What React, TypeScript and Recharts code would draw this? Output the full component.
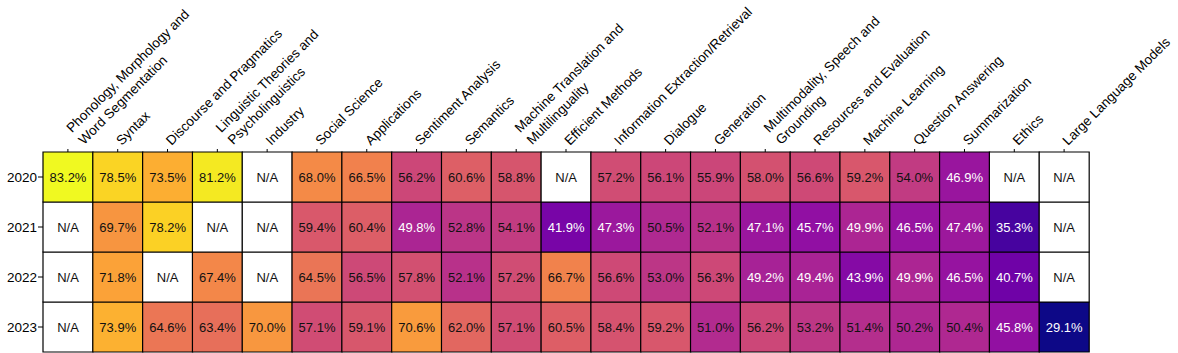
import React from "react";
import { BarChart, Bar, XAxis, YAxis, Cell, LabelList } from "recharts";

// column labels (line breaks as in the figure)
const CATEGORIES = [
  "Phonology, Morphology and\nWord Segmentation",
  "Syntax",
  "Discourse and Pragmatics",
  "Linguistic Theories and\nPsycholinguistics",
  "Industry",
  "Social Science",
  "Applications",
  "Sentiment Analysis",
  "Semantics",
  "Machine Translation and\nMultilinguality",
  "Efficient Methods",
  "Information Extraction/Retrieval",
  "Dialogue",
  "Generation",
  "Multimodality, Speech and\nGrounding",
  "Resources and Evaluation",
  "Machine Learning",
  "Question Answering",
  "Summarization",
  "Ethics",
  "Large Language Models",
];

const YEARS = ["2020", "2021", "2022", "2023"];

// null = N/A
const V2020 = [83.2, 78.5, 73.5, 81.2, null, 68.0, 66.5, 56.2, 60.6, 58.8, null, 57.2, 56.1, 55.9, 58.0, 56.6, 59.2, 54.0, 46.9, null, null];
const V2021 = [null, 69.7, 78.2, null, null, 59.4, 60.4, 49.8, 52.8, 54.1, 41.9, 47.3, 50.5, 52.1, 47.1, 45.7, 49.9, 46.5, 47.4, 35.3, null];
const V2022 = [null, 71.8, null, 67.4, null, 64.5, 56.5, 57.8, 52.1, 57.2, 66.7, 56.6, 53.0, 56.3, 49.2, 49.4, 43.9, 49.9, 46.5, 40.7, null];
const V2023 = [null, 73.9, 64.6, 63.4, 70.0, 57.1, 59.1, 70.6, 62.0, 57.1, 60.5, 58.4, 59.2, 51.0, 56.2, 53.2, 51.4, 50.2, 50.4, 45.8, 29.1];

const VALUES: Record<string, (number | null)[]> = {
  "2020": V2020,
  "2021": V2021,
  "2022": V2022,
  "2023": V2023,
};

// matplotlib "plasma" stops
const PLASMA = [
  "#0d0887", "#41049d", "#6a00a8", "#8f0da4", "#b12a90", "#cc4778",
  "#e16462", "#f2844b", "#fca636", "#fcce25", "#f0f921",
];

const ALL = [...V2020, ...V2021, ...V2022, ...V2023].filter((v): v is number => v != null);
const VMIN = Math.min(...ALL);
const VMAX = Math.max(...ALL);

function hex(c: string) {
  return [1, 3, 5].map((i) => parseInt(c.slice(i, i + 2), 16));
}

function plasma(v: number) {
  const t = Math.max(0, Math.min(1, (v - VMIN) / (VMAX - VMIN))) * (PLASMA.length - 1);
  const i = Math.min(Math.floor(t), PLASMA.length - 2);
  const f = t - i;
  const a = hex(PLASMA[i]);
  const b = hex(PLASMA[i + 1]);
  const m = a.map((x, k) => Math.round(x + (b[k] - x) * f));
  return `rgb(${m[0]},${m[1]},${m[2]})`;
}

const rows = CATEGORIES.map((name) => {
  const r: Record<string, string | number> = { name };
  YEARS.forEach((y) => (r[y] = 1));
  return r;
});

// stacking goes bottom-up, so last year first
const STACK_ORDER = [...YEARS].reverse();

const FONT = "'Liberation Sans', Arial, Helvetica, sans-serif";

function TopTick(props: any) {
  const { x, y, payload } = props;
  const lines = String(payload.value).split("\n");
  const offs = lines.length > 1 ? [[9, -9], [9, 8]] : [[0, 0]];
  return (
    <g transform={`translate(${x + 4},${y}) rotate(-45)`}>
      <text fontSize={13.5} fill="#000" fontFamily={FONT}>
        {lines.map((l, i) => (
          <tspan key={i} x={offs[i][0]} y={offs[i][1]}>
            {l}
          </tspan>
        ))}
      </text>
    </g>
  );
}

function cellLabel(year: string) {
  return (p: any) => {
    const v = VALUES[year][p.index];
    const txt = v == null ? "N/A" : `${v.toFixed(1)}%`;
    const color = v != null && v < 50 ? "#fff" : "#111";
    return (
      <text
        x={p.x + p.width / 2}
        y={p.y + p.height / 2}
        textAnchor="middle"
        dominantBaseline="central"
        fontSize={13}
        fill={color}
        fontFamily={FONT}
      >
        {txt}
      </text>
    );
  };
}

export default function App() {
  return (
    <div style={{ position: "absolute", left: 0, top: 0, background: "#fff", fontFamily: FONT }}>
      <BarChart
        width={1178}
        height={353}
        data={rows}
        margin={{ top: 0, right: 89, bottom: 1, left: 0 }}
        barCategoryGap={0}
        barGap={0}
      >
        <XAxis
          dataKey="name"
          xAxisId={0}
          orientation="top"
          height={152}
          interval={0}
          axisLine={false}
          tickSize={3}
          tickMargin={3}
          tickLine={{ stroke: "#000" }}
          tick={<TopTick />}
        />
        <YAxis
          type="number"
          domain={[0, 4]}
          ticks={[0.5, 1.5, 2.5, 3.5]}
          tickFormatter={(v: number) => STACK_ORDER[Math.floor(v)]}
          width={43}
          axisLine={false}
          tickSize={5}
          tickMargin={1}
          tickLine={{ stroke: "#000" }}
          tick={{ fill: "#000", fontSize: 13.5 }}
        />
        {STACK_ORDER.map((year) => (
          <Bar key={year} dataKey={year} stackId="a" isAnimationActive={false}>
            {VALUES[year].map((v, i) => (
              <Cell
                key={i}
                fill={v == null ? "#ffffff" : plasma(v)}
                stroke="#000"
                strokeWidth={1.2}
              />
            ))}
            <LabelList dataKey={year} content={cellLabel(year)} />
          </Bar>
        ))}
      </BarChart>
    </div>
  );
}
